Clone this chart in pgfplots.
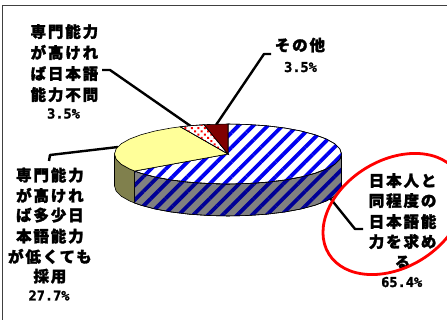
\documentclass[border=0pt]{standalone}
\usepackage{fontspec}
\usepackage{pgfplots}
\pgfplotsset{compat=1.18}
\usetikzlibrary{patterns.meta}
\newfontfamily\jp[LetterSpace=12,BoldFeatures={FakeBold=1.8}]{Noto Sans CJK JP}
\newfontfamily\pct[BoldFeatures={FakeBold=1.6}]{DejaVu Sans Mono}
\newcommand{\jl}[3]{\node[anchor=base,inner sep=0pt,xshift=0.9pt,font=\fontsize{15.5}{16}\selectfont\jp\bfseries] at (axis cs:#1,#2) {#3};}
\newcommand{\pl}[3]{\node[anchor=base,inner sep=0pt,font=\fontsize{13.6}{14}\selectfont\pct\bfseries] at (axis cs:#1,#2) {#3};}
\definecolor{hatch}{RGB}{0,0,240}
\definecolor{hatchdark}{RGB}{0,0,150}
\definecolor{pieyellow}{RGB}{255,255,153}
\definecolor{sideyellow}{RGB}{128,128,77}
\definecolor{darkred}{RGB}{128,0,0}
\tikzset{
  stripes/.style={pattern={Lines[angle=45,distance=10.4pt,line width=3.8pt]},pattern color=#1},
  dotsA/.style={pattern={Dots[radius=1.4pt,distance=4.6pt,angle=45]},pattern color=red},
}
\begin{document}
\begin{tikzpicture}[x=1pt,y=1pt]
\useasboundingbox (0,0) rectangle (447,320);
\begin{axis}[at={(0pt,0pt)},anchor=south west,width=447pt,height=320pt,scale only axis,
  xmin=0,xmax=447,ymin=0,ymax=320,y dir=reverse,axis lines=none,clip=true]
% frame
\addplot[color=black!75,line width=1pt] coordinates {(2.5,320) (2.5,5.5) (447,5.5)};
% leaders
\addplot[black,line width=2.4pt,line join=round] coordinates {(102,70) (110,70) (192,127)};
\addplot[black,line width=2.4pt,line join=round] coordinates {(271,54) (264,54) (216,125)};
\addplot[black,line width=2.4pt,line join=round] coordinates {(49,161) (50,155) (118,147)};
\addplot[black,line width=2.4pt,line join=round] coordinates {(330,198) (355,229) (363,229)};
% side: yellow slice
\addplot[fill=sideyellow,draw=black,line width=0.6pt] coordinates {
(134.6,171.0) (129.7,169.0) (121.3,164.3) (116.2,159.2) (114.5,154)
(114.5,186) (116.2,191.2) (121.3,196.3) (129.7,201.0) (134.6,203.0)} -- cycle;
% side: hatched slice
\addplot[fill={rgb,255:red,128;green,128;blue,128},draw=black,line width=0.6pt,postaction={stripes=hatchdark}] coordinates {
(341.5,154) (339.8,159.2) (334.7,164.3) (326.3,169.0) (314.9,173.3) (301.0,177.0) (284.8,180.0)
(266.8,182.2) (247.7,183.5) (228,184) (208.3,183.5) (189.2,182.2) (171.2,180.0) (155.0,177.0)
(141.1,173.3) (134.6,171.0)
(134.6,203.0) (141.1,205.3) (155.0,209.0) (171.2,212.0) (189.2,214.2) (208.3,215.5) (228,216)
(247.7,215.5) (266.8,214.2) (284.8,212.0) (301.0,209.0) (314.9,205.3) (326.3,201.0) (334.7,196.3)
(339.8,191.2) (341.5,186)} -- cycle;
% top: 65.4 %
\addplot[fill=white,draw=black,line width=0.6pt,postaction={stripes=hatch}] coordinates {
(228,154) (228,124) (247.7,124.5) (266.8,125.8) (284.8,128.0) (301.0,131.0) (314.9,134.7) (326.3,139.0)
(334.7,143.7) (339.8,148.8) (341.5,154) (339.8,159.2) (334.7,164.3) (326.3,169.0) (314.9,173.3)
(301.0,177.0) (284.8,180.0) (266.8,182.2) (247.7,183.5) (228,184) (208.3,183.5) (189.2,182.2)
(171.2,180.0) (155.0,177.0) (141.1,173.3) (134.6,171.0)} -- cycle;
% top: 27.7 %
\addplot[fill=pieyellow,draw=black,line width=0.6pt] coordinates {
(228,154) (134.6,171.0) (129.7,169.0) (121.3,164.3) (116.2,159.2) (114.5,154) (116.2,148.8)
(121.3,143.7) (129.7,139.0) (141.1,134.7) (155.0,131.0) (171.2,128.0) (180.3,126.8)} -- cycle;
% top: 3.5 % dotted
\addplot[fill=white,draw=black,line width=0.6pt,postaction={dotsA}] coordinates {
(228,154) (180.3,126.8) (189.2,125.8) (204.0,124.7)} -- cycle;
% top: 3.5 % dark red
\addplot[fill=darkred,draw=black,line width=0.6pt] coordinates {
(228,154) (204.0,124.7) (208.3,124.5) (228,124)} -- cycle;
% labels
\jl{63.5}{37.5}{専門能力}
\jl{63.5}{58.5}{が高けれ}
\jl{63.5}{79.5}{ば日本語}
\jl{63.5}{100.5}{能力不問}
\pl{63.5}{118.5}{3.5\%}
\jl{299}{51}{その他}
\pl{300.5}{72}{3.5\%}
\jl{49}{181}{専門能力}
\jl{49}{201.5}{が高けれ}
\jl{49}{221}{ば多少日}
\jl{49}{242}{本語能力}
\jl{49}{262.5}{が低くても}
\jl{49}{282}{採用}
\pl{49}{300.5}{27.7\%}
\jl{401.7}{186.5}{日本人と}
\jl{401.7}{206.5}{同程度の}
\jl{401.7}{227.5}{日本語能}
\jl{401.7}{247.5}{力を求め}
\jl{401.7}{268}{る}
\pl{401.7}{287}{65.4\%}
\draw[red,line width=2.8pt,rotate around={31.7:(axis cs:393.5,214)}] (axis cs:393.5,214) ellipse [x radius=76,y radius=53.5];
\end{axis}
\end{tikzpicture}
\end{document}
